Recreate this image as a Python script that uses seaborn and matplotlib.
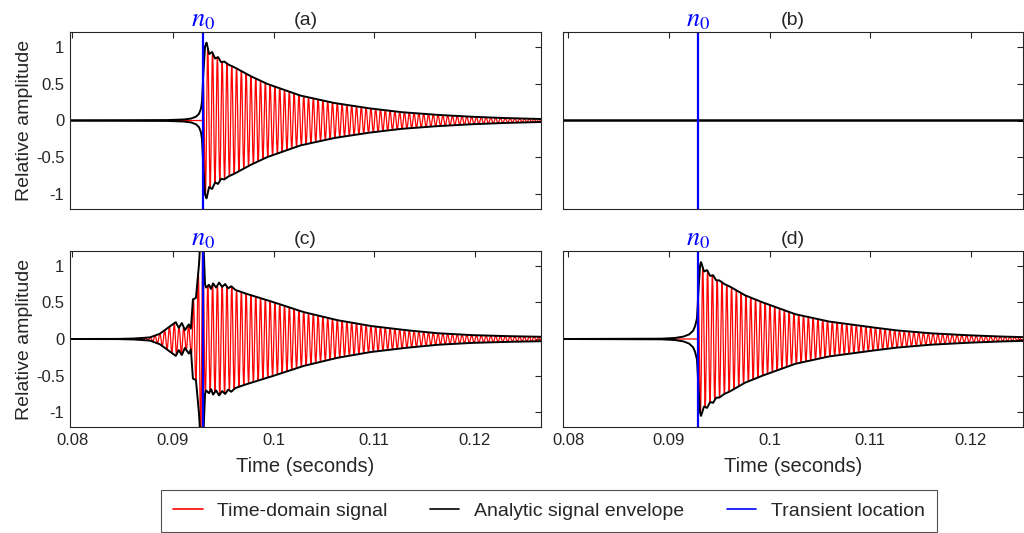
import numpy as np
import pandas as pd
import matplotlib
matplotlib.use("Agg")
import matplotlib.pyplot as plt
import matplotlib.transforms as mtransforms
from matplotlib.lines import Line2D
import seaborn as sns

# ---------------- data ----------------
SAMPLE_RATE = 44100          # samples per second
CARRIER_HZ = 2100            # oscillation frequency estimated from the stripes

panel_labels = ["(a)", "(b)", "(c)", "(d)"]
onsets = [0.0930, 0.0929, 0.0930, 0.0929]      # transient location n0 (s)

# analytic-signal envelope key points (time s, amplitude)
env_a_t = [0.0798, 0.0890, 0.0910, 0.0918, 0.0923, 0.0926, 0.0928, 0.0929, 0.0930, 0.0932,
           0.09335, 0.0936, 0.0939, 0.0942, 0.0945, 0.0948, 0.0951, 0.0955, 0.0960, 0.0976,
           0.0993, 0.1026, 0.1059, 0.1092, 0.1125, 0.1158, 0.1191, 0.1224, 0.1266]
env_a_v = [0.0, 0.004, 0.012, 0.025, 0.05, 0.09, 0.16, 0.25, 0.55, 1.0,
           1.06, 0.90, 0.93, 0.84, 0.86, 0.79, 0.80, 0.76, 0.73, 0.61,
           0.50, 0.34, 0.24, 0.17, 0.115, 0.08, 0.054, 0.035, 0.02]

env_b_t = [0.0795, 0.1253]
env_b_v = [0.0, 0.0]

env_c_t = [0.0798, 0.0840, 0.0860, 0.0877, 0.0887, 0.0897, 0.0903, 0.0906, 0.0909, 0.0912,
           0.0916, 0.0918, 0.0920, 0.0923, 0.0926, 0.0928, 0.0930, 0.0932, 0.0933, 0.0936,
           0.0938, 0.0940, 0.0943, 0.0946, 0.0949, 0.0952, 0.0955, 0.0958, 0.0962, 0.0970,
           0.0996, 0.1029, 0.1062, 0.1095, 0.1128, 0.1161, 0.1194, 0.1227, 0.1266]
env_c_v = [0.0, 0.0, 0.005, 0.02, 0.07, 0.17, 0.23, 0.15, 0.22, 0.12,
           0.20, 0.14, 0.54, 0.56, 1.00, 1.50, 1.45, 0.75, 0.70, 0.74,
           0.68, 0.76, 0.70, 0.77, 0.71, 0.75, 0.69, 0.72, 0.67, 0.63,
           0.52, 0.37, 0.26, 0.18, 0.125, 0.08, 0.054, 0.04, 0.03]

env_d_t = [0.0795, 0.0890, 0.0905, 0.0914, 0.0920, 0.0924, 0.0926, 0.0928, 0.0929, 0.0931,
           0.0932, 0.0935, 0.0938, 0.0941, 0.0944, 0.0947, 0.0950, 0.0955, 0.0960, 0.0975,
           0.0991, 0.1025, 0.1058, 0.1090, 0.1124, 0.1157, 0.1190, 0.1223, 0.1253]
env_d_v = [0.0, 0.003, 0.012, 0.03, 0.06, 0.11, 0.17, 0.28, 0.55, 1.0,
           1.05, 0.92, 0.94, 0.86, 0.87, 0.80, 0.80, 0.75, 0.72, 0.60,
           0.51, 0.34, 0.24, 0.18, 0.12, 0.08, 0.055, 0.036, 0.025]

signal_before_onset = [False, False, True, False]   # red signal present before n0?

x_ticks = [0.08, 0.09, 0.10, 0.11, 0.12]
x_tick_labels = ["0.08", "0.09", "0.1", "0.11", "0.12"]
y_ticks = [-1, -0.5, 0, 0.5, 1]
y_tick_labels = ["-1", "-0.5", "0", "0.5", "1"]

legend_labels = ["Time-domain signal", "Analytic signal envelope", "Transient location"]
colors = {"signal": "#ff0000", "envelope": "#000000", "transient": "#0000ff"}

# ---------------- style ----------------
sns.set_theme(style="white")
plt.rcParams["font.family"] = ["Liberation Sans", "DejaVu Sans"]
plt.rcParams["mathtext.fontset"] = "stix"
plt.rcParams["axes.edgecolor"] = "#262626"
plt.rcParams["axes.linewidth"] = 0.8

fig = plt.figure(figsize=(10.24, 5.33), dpi=100)
W, H = 1024, 533
boxes = [(70, 32, 541, 209), (563, 32, 1023, 209),
         (70, 251, 541, 427), (563, 251, 1023, 427)]
xlims = [(0.0798, 0.12655), (0.0795, 0.12516), (0.0798, 0.12655), (0.0795, 0.12516)]

env_t = [env_a_t, env_b_t, env_c_t, env_d_t]
env_v = [env_a_v, env_b_v, env_c_v, env_d_v]

for i in range(4):
    l, t, r, b = boxes[i]
    ax = fig.add_axes([l / W, 1 - b / H, (r - l) / W, (b - t) / H])
    x0, x1 = xlims[i]
    tt = np.arange(x0, x1, 1.0 / SAMPLE_RATE)
    env = np.interp(tt, env_t[i], env_v[i])
    sig_env = env.copy()
    if not signal_before_onset[i]:
        sig_env[tt < onsets[i]] = 0.0
    sig = sig_env * np.cos(2 * np.pi * CARRIER_HZ * (tt - onsets[i]))
    df = pd.DataFrame({"t": tt, "sig": sig, "up": env, "lo": -env})

    sns.lineplot(data=df, x="t", y="sig", ax=ax, color=colors["signal"], lw=0.9,
                 estimator=None, sort=False)
    sns.lineplot(data=df, x="t", y="up", ax=ax, color=colors["envelope"], lw=1.4,
                 estimator=None, sort=False)
    sns.lineplot(data=df, x="t", y="lo", ax=ax, color=colors["envelope"], lw=1.4,
                 estimator=None, sort=False)
    ax.axvline(onsets[i], color=colors["transient"], lw=1.6)

    ax.set_xlim(x0, x1)
    ax.set_ylim(-1.2, 1.2)
    ax.set_xticks(x_ticks)
    ax.set_yticks(y_ticks)
    ax.tick_params(direction="in", top=True, right=True, length=4, width=0.8,
                   labelsize=12, colors="#262626", pad=4)
    if i >= 2:
        ax.set_xticklabels(x_tick_labels)
        ax.set_xlabel("Time (seconds)", fontsize=14.5, color="#262626", labelpad=7)
    else:
        ax.set_xticklabels([])
        ax.set_xlabel("")
    if i % 2 == 0:
        ax.set_yticklabels(y_tick_labels)
        ax.set_ylabel("Relative amplitude", fontsize=14, color="#262626", labelpad=2)
    else:
        ax.set_yticklabels([])
        ax.set_ylabel("")
    for s in ax.spines.values():
        s.set_visible(True)
        s.set_color("#262626")
        s.set_linewidth(0.8)

    ax.set_title(panel_labels[i], fontsize=14, color="#262626", pad=5)
    trans = mtransforms.blended_transform_factory(ax.transData, ax.transAxes)
    ax.text(onsets[i], 1.0, r"$n_0$", transform=trans, ha="center", va="bottom",
            color=colors["transient"], fontsize=19)

handles = [Line2D([], [], color=colors["signal"], lw=1.2),
           Line2D([], [], color=colors["envelope"], lw=1.2),
           Line2D([], [], color=colors["transient"], lw=1.2)]
leg = fig.legend(handles, legend_labels, loc="center", bbox_to_anchor=(549 / W, 1 - 511 / H),
                 ncol=3, frameon=True, fancybox=False, fontsize=14, handlelength=1.5,
                 columnspacing=2.2, handletextpad=0.75, borderpad=0.65)
leg.get_frame().set_edgecolor("#262626")
leg.get_frame().set_linewidth(0.8)
for txt in leg.get_texts():
    txt.set_color("#262626")

fig.savefig("out.png", dpi=100)
